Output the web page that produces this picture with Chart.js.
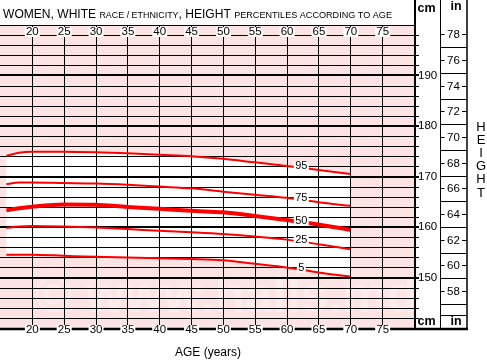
<!DOCTYPE html>
<html>
<head>
<meta charset="utf-8">
<script src="https://cdn.jsdelivr.net/npm/chart.js@4.4.1/dist/chart.umd.min.js"></script>
<style>
  body { margin: 0; background: #fff; }
  #wrap { width: 487px; height: 360px; }
</style>
</head>
<body>
<div id="wrap"><canvas id="js--chart--height"></canvas></div>
<script>
// ages (years) and height percentiles (cm)
const ages = [16, 18, 20, 25, 30, 35, 40, 45, 50, 55, 60, 65, 70];
const p95 = [174.1, 174.7, 174.9, 174.9, 174.8, 174.6, 174.3, 174.0, 173.5, 172.8, 172.1, 171.3, 170.5];
const p75 = [168.5, 168.8, 168.8, 168.7, 168.6, 168.35, 168.0, 167.65, 167.0, 166.4, 165.8, 164.9, 164.2];
const p50 = [163.3, 163.7, 164.0, 164.45, 164.4, 163.95, 163.6, 163.2, 162.9, 162.2, 161.4, 160.5, 159.45];
const p25 = [159.8, 160.1, 160.2, 160.1, 159.9, 159.6, 159.25, 158.95, 158.6, 158.1, 157.5, 156.6, 155.6];
const p5 = [154.5, 154.5, 154.5, 154.3, 154.1, 153.95, 153.8, 153.65, 153.4, 152.7, 152.0, 151.0, 150.2];

const pctNames = ['95', '75', '50', '25', '5'];
const ageTicks = [20, 25, 30, 35, 40, 45, 50, 55, 60, 65, 70, 75];
const cmTicks = [150, 160, 170, 180, 190];
const inchTicks = [58, 60, 62, 64, 66, 68, 70, 72, 74, 76, 78];
const labelAge = 62.3;

const FONT = '"Liberation Sans", Arial, sans-serif';
const PINK = '#fde4e4';

function valueAt(values, age) {
  for (let i = 1; i < ages.length; i++) {
    if (age <= ages[i]) {
      const t = (age - ages[i - 1]) / (ages[i] - ages[i - 1]);
      return values[i - 1] + t * (values[i] - values[i - 1]);
    }
  }
  return values[values.length - 1];
}

function line(ctx, x1, y1, x2, y2, w) {
  ctx.lineWidth = w;
  ctx.beginPath();
  ctx.moveTo(x1, y1);
  ctx.lineTo(x2, y2);
  ctx.stroke();
}

function boxText(ctx, txt, cx, cy, w, h) {
  ctx.fillStyle = '#fff';
  ctx.fillRect(cx - w / 2, cy - h / 2, w, h);
  ctx.fillStyle = '#000';
  ctx.fillText(txt, cx, cy);
}

// white band between the 95th and 5th curves, following the drawn splines
function fillBand(chart, iTop, iBot) {
  const { ctx, chartArea: a } = chart;
  const top = chart.getDatasetMeta(iTop), bot = chart.getDatasetMeta(iBot);
  top.dataset.updateControlPoints(a, 'x');
  bot.dataset.updateControlPoints(a, 'x');
  const tp = top.data, bp = bot.data;
  ctx.beginPath();
  ctx.moveTo(tp[0].x, tp[0].y);
  for (let i = 1; i < tp.length; i++) {
    ctx.bezierCurveTo(tp[i - 1].cp2x, tp[i - 1].cp2y, tp[i].cp1x, tp[i].cp1y, tp[i].x, tp[i].y);
  }
  const n = bp.length - 1;
  ctx.lineTo(bp[n].x, bp[n].y);
  for (let i = n; i > 0; i--) {
    ctx.bezierCurveTo(bp[i].cp1x, bp[i].cp1y, bp[i - 1].cp2x, bp[i - 1].cp2y, bp[i - 1].x, bp[i - 1].y);
  }
  ctx.closePath();
  ctx.fillStyle = '#ffffff';
  ctx.fill();
}

const paperPlugin = {
  id: 'paper',
  beforeDraw(chart) {
    const { ctx, chartArea: a } = chart;
    ctx.save();
    ctx.fillStyle = '#fff';
    ctx.fillRect(0, 0, chart.width, chart.height);
    ctx.fillStyle = PINK;
    ctx.fillRect(a.left, a.top, a.right - a.left, a.bottom - a.top);
    // faint watermark
    ctx.font = 'bold 50px ' + FONT;
    ctx.fillStyle = 'rgba(255,255,255,0.3)';
    ctx.textBaseline = 'alphabetic';
    ctx.fillText('\u00a9 www.halls.md', 35, 312);
    ctx.restore();
  },
  beforeDatasetsDraw(chart) {
    const { ctx, chartArea: a, scales: { x, y } } = chart;
    ctx.save();
    fillBand(chart, 0, 4);
    ctx.strokeStyle = '#000';
    ageTicks.forEach(age => {
      const px = Math.round(x.getPixelForValue(age)) + 0.5;
      line(ctx, px, a.top, px, a.bottom, 1);
    });
    for (let cm = 142; cm <= 200; cm += 2) {
      const major = cm % 10 === 0 && cm !== 200;
      const py = Math.round(y.getPixelForValue(cm)) + (major ? 0 : 0.5);
      line(ctx, a.left, py, a.right + (cm === 200 ? 0 : 5), py, major ? 2 : 1);
    }
    ctx.restore();
  },
  afterDatasetsDraw(chart) {
    const { ctx, chartArea: a, scales: { x, y } } = chart;
    ctx.save();
    ctx.strokeStyle = '#000';
    ctx.textAlign = 'center';
    ctx.textBaseline = 'middle';

    // percentile labels on the curves
    ctx.font = '11px ' + FONT;
    const series = [p95, p75, p50, p25, p5];
    series.forEach((vals, i) => {
      const cx = x.getPixelForValue(labelAge);
      const cy = y.getPixelForValue(valueAt(vals, labelAge)) - 1.5;
      boxText(ctx, pctNames[i], cx, cy, pctNames[i].length * 6 + 3, 9);
    });

    // right columns
    const colA = a.right, colB = 440.5, colC = 467;
    line(ctx, colA + 1, 0, colA + 1, a.bottom + 1, 2);
    line(ctx, colB, 0, colB, a.bottom, 1);
    line(ctx, colC, 0, colC, a.bottom + 1, 1.5);

    // inch scale
    for (let inch = 57; inch <= 77; inch += 2) {
      const py = Math.round(y.getPixelForValue(inch * 2.54)) + 0.5;
      line(ctx, colB, py, colC, py, 1);
    }
    line(ctx, colB, 315.5, colC, 315.5, 1);
    ctx.font = '11.5px ' + FONT;
    inchTicks.forEach(inch => {
      const py = Math.round(y.getPixelForValue(inch * 2.54)) + 0.5;
      line(ctx, colB, py, colB + 4, py, 1);
      line(ctx, colC - 5, py, colC, py, 1);
      ctx.fillStyle = '#000';
      ctx.fillText(String(inch), 453.5, py);
    });

    // cm scale labels
    ctx.textAlign = 'left';
    cmTicks.forEach(cm => {
      ctx.fillText(String(cm), colA + 4, y.getPixelForValue(cm));
    });

    // age labels, top and bottom
    ctx.textAlign = 'center';
    line(ctx, 0, a.bottom + 1, colC + 1, a.bottom + 1, 2.5);
    ageTicks.forEach(age => {
      const px = x.getPixelForValue(age) + 0.5;
      boxText(ctx, String(age), px, 32, 15, 10);
      boxText(ctx, String(age), px, 329.5, 15, 9);
    });

    // headers
    ctx.font = 'bold 12.5px ' + FONT;
    ctx.fillStyle = '#000';
    ctx.fillText('cm', 426.5, 8.5);
    ctx.fillText('in', 456, 6.5);
    ctx.fillText('cm', 426.5, 322);
    ctx.fillText('in', 456, 321.5);

    // side title
    ctx.font = '13px ' + FONT;
    'HEIGHT'.split('').forEach((ch, i) => ctx.fillText(ch, 481, 127 + i * 13.2));

    ctx.font = '12px ' + FONT;
    ctx.fillText('AGE (years)', 208, 352.5);

    // main title with small-caps parts, squeezed to the original width
    ctx.textAlign = 'left';
    ctx.textBaseline = 'alphabetic';
    const parts = [
      ['WOMEN, WHITE ', 13],
      ['RACE / ETHNICITY', 9.6],
      [', HEIGHT ', 13],
      ['PERCENTILES ACCORDING TO AGE', 9.8]
    ];
    let total = 0;
    parts.forEach(([txt, size]) => {
      ctx.font = size + 'px ' + FONT;
      total += ctx.measureText(txt).width;
    });
    const sx = 389 / total;
    ctx.translate(3, 18);
    ctx.scale(sx, 1);
    let tx = 0;
    parts.forEach(([txt, size]) => {
      ctx.font = size + 'px ' + FONT;
      ctx.fillText(txt, tx, 0);
      tx += ctx.measureText(txt).width;
    });
    ctx.restore();
  }
};

function curve(vals, width) {
  return {
    data: ages.map((a, i) => ({ x: a, y: vals[i] })),
    borderColor: '#ff0000',
    borderWidth: width,
    pointRadius: 0,
    tension: 0.35,
    cubicInterpolationMode: 'monotone',
    fill: false
  };
}

const config = {
  type: 'line',
  data: {
    datasets: [
      curve(p95, 2),
      curve(p75, 2),
      curve(p50, 4),
      curve(p25, 2),
      curve(p5, 2)
    ]
  },
  options: {
    responsive: true,
    maintainAspectRatio: false,
    animation: false,
    layout: { padding: { left: 0, top: 25, right: 73, bottom: 32 } },
    scales: {
      x: { type: 'linear', min: 15, max: 80, display: false },
      y: { type: 'linear', min: 140, max: 200, display: false }
    },
    plugins: {
      legend: { display: false },
      tooltip: { enabled: false }
    }
  },
  plugins: [paperPlugin]
};

new Chart(document.getElementById('js--chart--height'), config);
</script>
</body>
</html>
